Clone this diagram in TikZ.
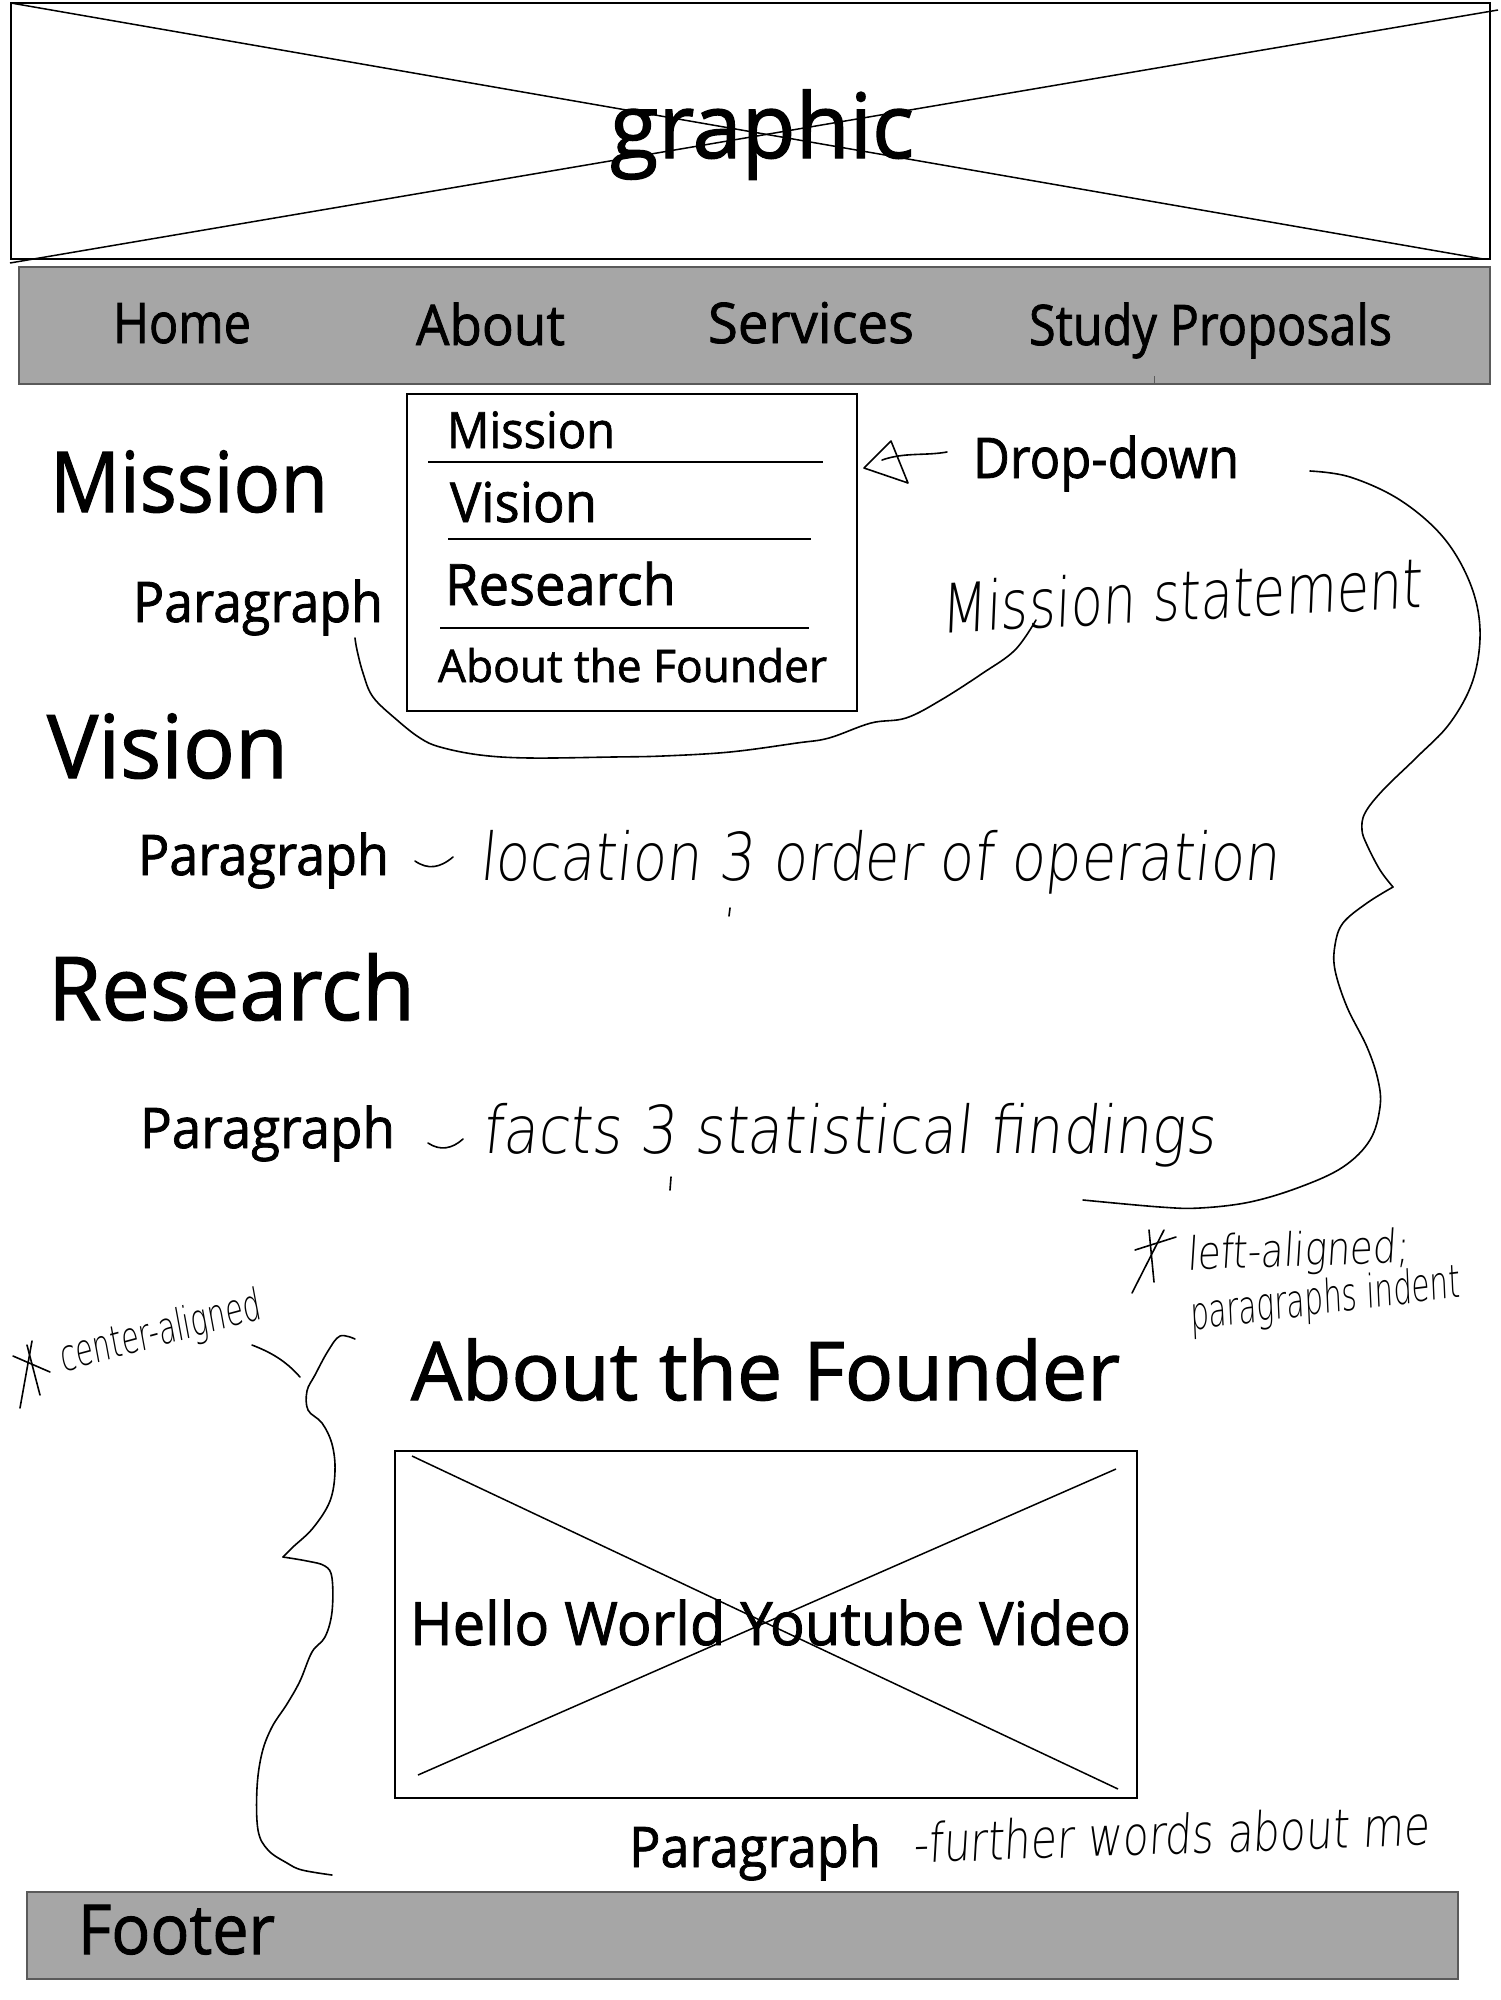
\documentclass[tikz,border=0pt]{standalone}
\usepackage{fontspec}
\usepackage{graphicx}
\setmainfont{Open Sans}[FakeBold=1.4]
\newfontfamily\hand{DejaVuSans-ExtraLight.ttf}[FakeSlant=0.12]
\newsavebox\fitbox
% set #2 and stretch it horizontally to the width #1, keeping its height
\newcommand\fitw[2]{\sbox\fitbox{#2}\resizebox{#1}{\ht\fitbox}{\usebox\fitbox}}
\newcommand\fs[1]{\fontsize{#1}{#1}\selectfont}
\definecolor{bargray}{HTML}{A6A6A6}
\definecolor{bardraw}{HTML}{5A5A5A}
\tikzset{
  lbl/.style={anchor=base west, inner sep=0pt, outer sep=0pt},
  frame/.style={draw=black, line width=2.5pt},
  cross/.style={draw=black, line width=1.5pt},
  bar/.style={fill=bargray, draw=bardraw, line width=2pt},
  ink/.style={draw=black, line width=1.6pt, line cap=round, line join=round},
  sep/.style={draw=black, line width=2.2pt},
}
\begin{document}
\begin{tikzpicture}[x=1pt, y=-1pt]
\useasboundingbox (0,0) rectangle (1500,2000);
\fill[white] (0,0) rectangle (1500,2000);

% header graphic placeholder
\draw[frame] (11,3) rectangle (1490,259);
\draw[cross] (11,3) -- (1483,259);
\draw[cross] (10,263) -- (1498,10);
\node[lbl] (graphic) at (610,158) {\fitw{304pt}{\fs{90}graphic}};

% navigation bar
\draw[bar] (19,267) rectangle (1490,384);
\draw[draw=bardraw, line width=1pt] (1154,376) -- (1154,384);
\node[lbl] (home) at (113,343) {\fitw{138pt}{\fs{56}Home}};
\node[lbl] (about) at (416,345) {\fitw{149pt}{\fs{56}About}};
\node[lbl] (services) at (708,343) {\fitw{206pt}{\fs{56}Services}};
\node[lbl] (study) at (1029,345) {\fitw{363pt}{\fs{56}Study Proposals}};

% drop-down menu
\draw[frame] (407,394) rectangle (857,711);
\node[lbl] (ddmission) at (447,448) {\fitw{168pt}{\fs{50}Mission}};
\draw[sep] (428,462) -- (823,462);
\node[lbl] (ddvision) at (450,522) {\fitw{147pt}{\fs{55}Vision}};
\draw[sep] (448,539) -- (811,539);
\node[lbl] (ddresearch) at (445,605) {\fitw{231pt}{\fs{57}Research}};
\draw[sep] (440,628) -- (809,628);
\node[lbl] (ddfounder) at (438,682) {\fitw{389pt}{\fs{45}About the Founder}};

% drop-down label with hand-drawn arrow
\node[lbl] (ddlabel) at (973,478) {\fitw{266pt}{\fs{56}Drop-down}};
\coordinate (tipA) at (864,468);
\coordinate (tipB) at (891,441);
\coordinate (tipC) at (908,483);
\draw[ink] (tipB) -- (tipA) -- (tipC) -- (tipB);
\draw[ink] (882,460) .. controls (905,452) and (925,456) .. (947,452);

% section headings and paragraphs
\node[lbl] (hmission) at (50,512) {\fitw{278pt}{\fs{84}Mission}};
\node[lbl] (pmission) at (133,622) {\fitw{250pt}{\fs{56}Paragraph}};
\node[lbl] (hvision) at (47,778) {\fitw{241pt}{\fs{88}Vision}};
\node[lbl] (pvision) at (138,875) {\fitw{251pt}{\fs{56}Paragraph}};
\node[lbl] (hresearch) at (48,1020) {\fitw{367pt}{\fs{88}Research}};
\node[lbl] (presearch) at (140,1148) {\fitw{255pt}{\fs{56}Paragraph}};

% handwritten notes
\node[lbl, rotate=3] (nmission) at (941,633) {\fitw{482pt}{\hand\fs{68}Mission statement}};
\draw[ink] (415,861) .. controls (428,870) and (440,868) .. (453,857);
\node[lbl] (nvision) at (479,880) {\fitw{800pt}{\hand\fs{66}location 3 order of operation}};
\draw[ink] (730,908) -- (729,916);
\draw[ink] (428,1143) .. controls (440,1151) and (452,1149) .. (463,1139);
\node[lbl] (nresearch) at (482,1153) {\fitw{733pt}{\hand\fs{66}facts 3 statistical findings}};
\draw[ink] (671,1177) -- (670,1190);

% curve from the mission paragraph to its note
\coordinate (cmA) at (355,638);
\coordinate (cmB) at (1036,620);
\draw[ink] plot[smooth, tension=0.6] coordinates {(cmA) (357,650) (363,673) (373,697) (397,720) (420,738) (440,747) (480,755) (530,758) (613,757) (663,756) (730,752) (797,743) (829,738) (871,723) (906,718) (941,700) (983,673) (1015,650) (cmB)};

% brace grouping the left-aligned sections
\coordinate (rbA) at (1310,471);
\coordinate (rbK) at (1393,887);
\coordinate (rbZ) at (1083,1200);
\draw[ink] plot[smooth, tension=0.6] coordinates {(rbA) (1350,477) (1400,500) (1443,537) (1470,583) (1480,630) (1473,680) (1450,723) (1417,757) (1383,790) (1365,813) (1362,830) (1367,845) (1380,870) (rbK)};
\draw[ink] plot[smooth, tension=0.6] coordinates {(rbK) (1367,903) (1343,923) (1335,945) (1335,970) (1347,1007) (1367,1047) (1378,1080) (1380,1107) (1370,1140) (1343,1167) (1300,1187) (1250,1202) (1200,1208) (1160,1207) (rbZ)};

% left-aligned note
\draw[ink] (1132,1293) -- (1164,1230);
\draw[ink] (1149,1230) -- (1154,1282);
\draw[ink] (1135,1250) -- (1176,1237);
\node[lbl, rotate=2] (nleft) at (1187,1270) {\fitw{222pt}{\hand\fs{46}left-aligned;}};
\node[lbl, rotate=7] (nindent) at (1191,1330) {\fitw{272pt}{\hand\fs{46}paragraphs indent}};

% about the founder section
\node[lbl] (hfounder) at (411,1400) {\fitw{709pt}{\fs{81}About the Founder}};
\draw[frame] (395,1451) rectangle (1137,1798);
\draw[cross] (412,1456) -- (1118,1789);
\draw[cross] (1116,1469) -- (418,1775);
\node[lbl] (video) at (410,1645) {\fitw{721pt}{\fs{60}Hello World Youtube Video}};
\node[lbl] (pfounder) at (629,1867) {\fitw{252pt}{\fs{56}Paragraph}};
\node[lbl, rotate=2] (nfounder) at (913,1863) {\fitw{517pt}{\hand\fs{54}-further words about me}};

% center-aligned note and brace
\draw[ink] (20,1408) -- (32,1341);
\draw[ink] (40,1395) -- (27,1345);
\draw[ink] (13,1356) -- (50,1372);
\node[lbl, rotate=15] (ncenter) at (63,1372) {\fitw{207pt}{\hand\fs{44}center-aligned}};
\coordinate (lbT) at (252,1345);
\coordinate (lbS) at (300,1377);
\draw[ink] (lbT) .. controls (270,1352) and (285,1360) .. (lbS);
\coordinate (lbA) at (355,1339);
\coordinate (lbK) at (283,1557);
\coordinate (lbZ) at (332,1875);
\draw[ink] plot[smooth, tension=0.6] coordinates {(lbA) (340,1336) (328,1351) (315,1375) (307,1391) (308,1410) (322,1423) (332,1444) (335,1471) (330,1501) (313,1528) (293,1547) (lbK)};
\draw[ink] plot[smooth, tension=0.6] coordinates {(lbK) (307,1561) (325,1566) (332,1578) (332,1612) (325,1637) (312,1652) (300,1681) (287,1704) (272,1727) (262,1753) (257,1788) (258,1830) (268,1850) (287,1863) (302,1870) (lbZ)};

% footer
\draw[bar] (27,1892) rectangle (1458,1979);
\node[lbl] (footer) at (78,1954) {\fitw{197pt}{\fs{69}Footer}};
\end{tikzpicture}
\end{document}
